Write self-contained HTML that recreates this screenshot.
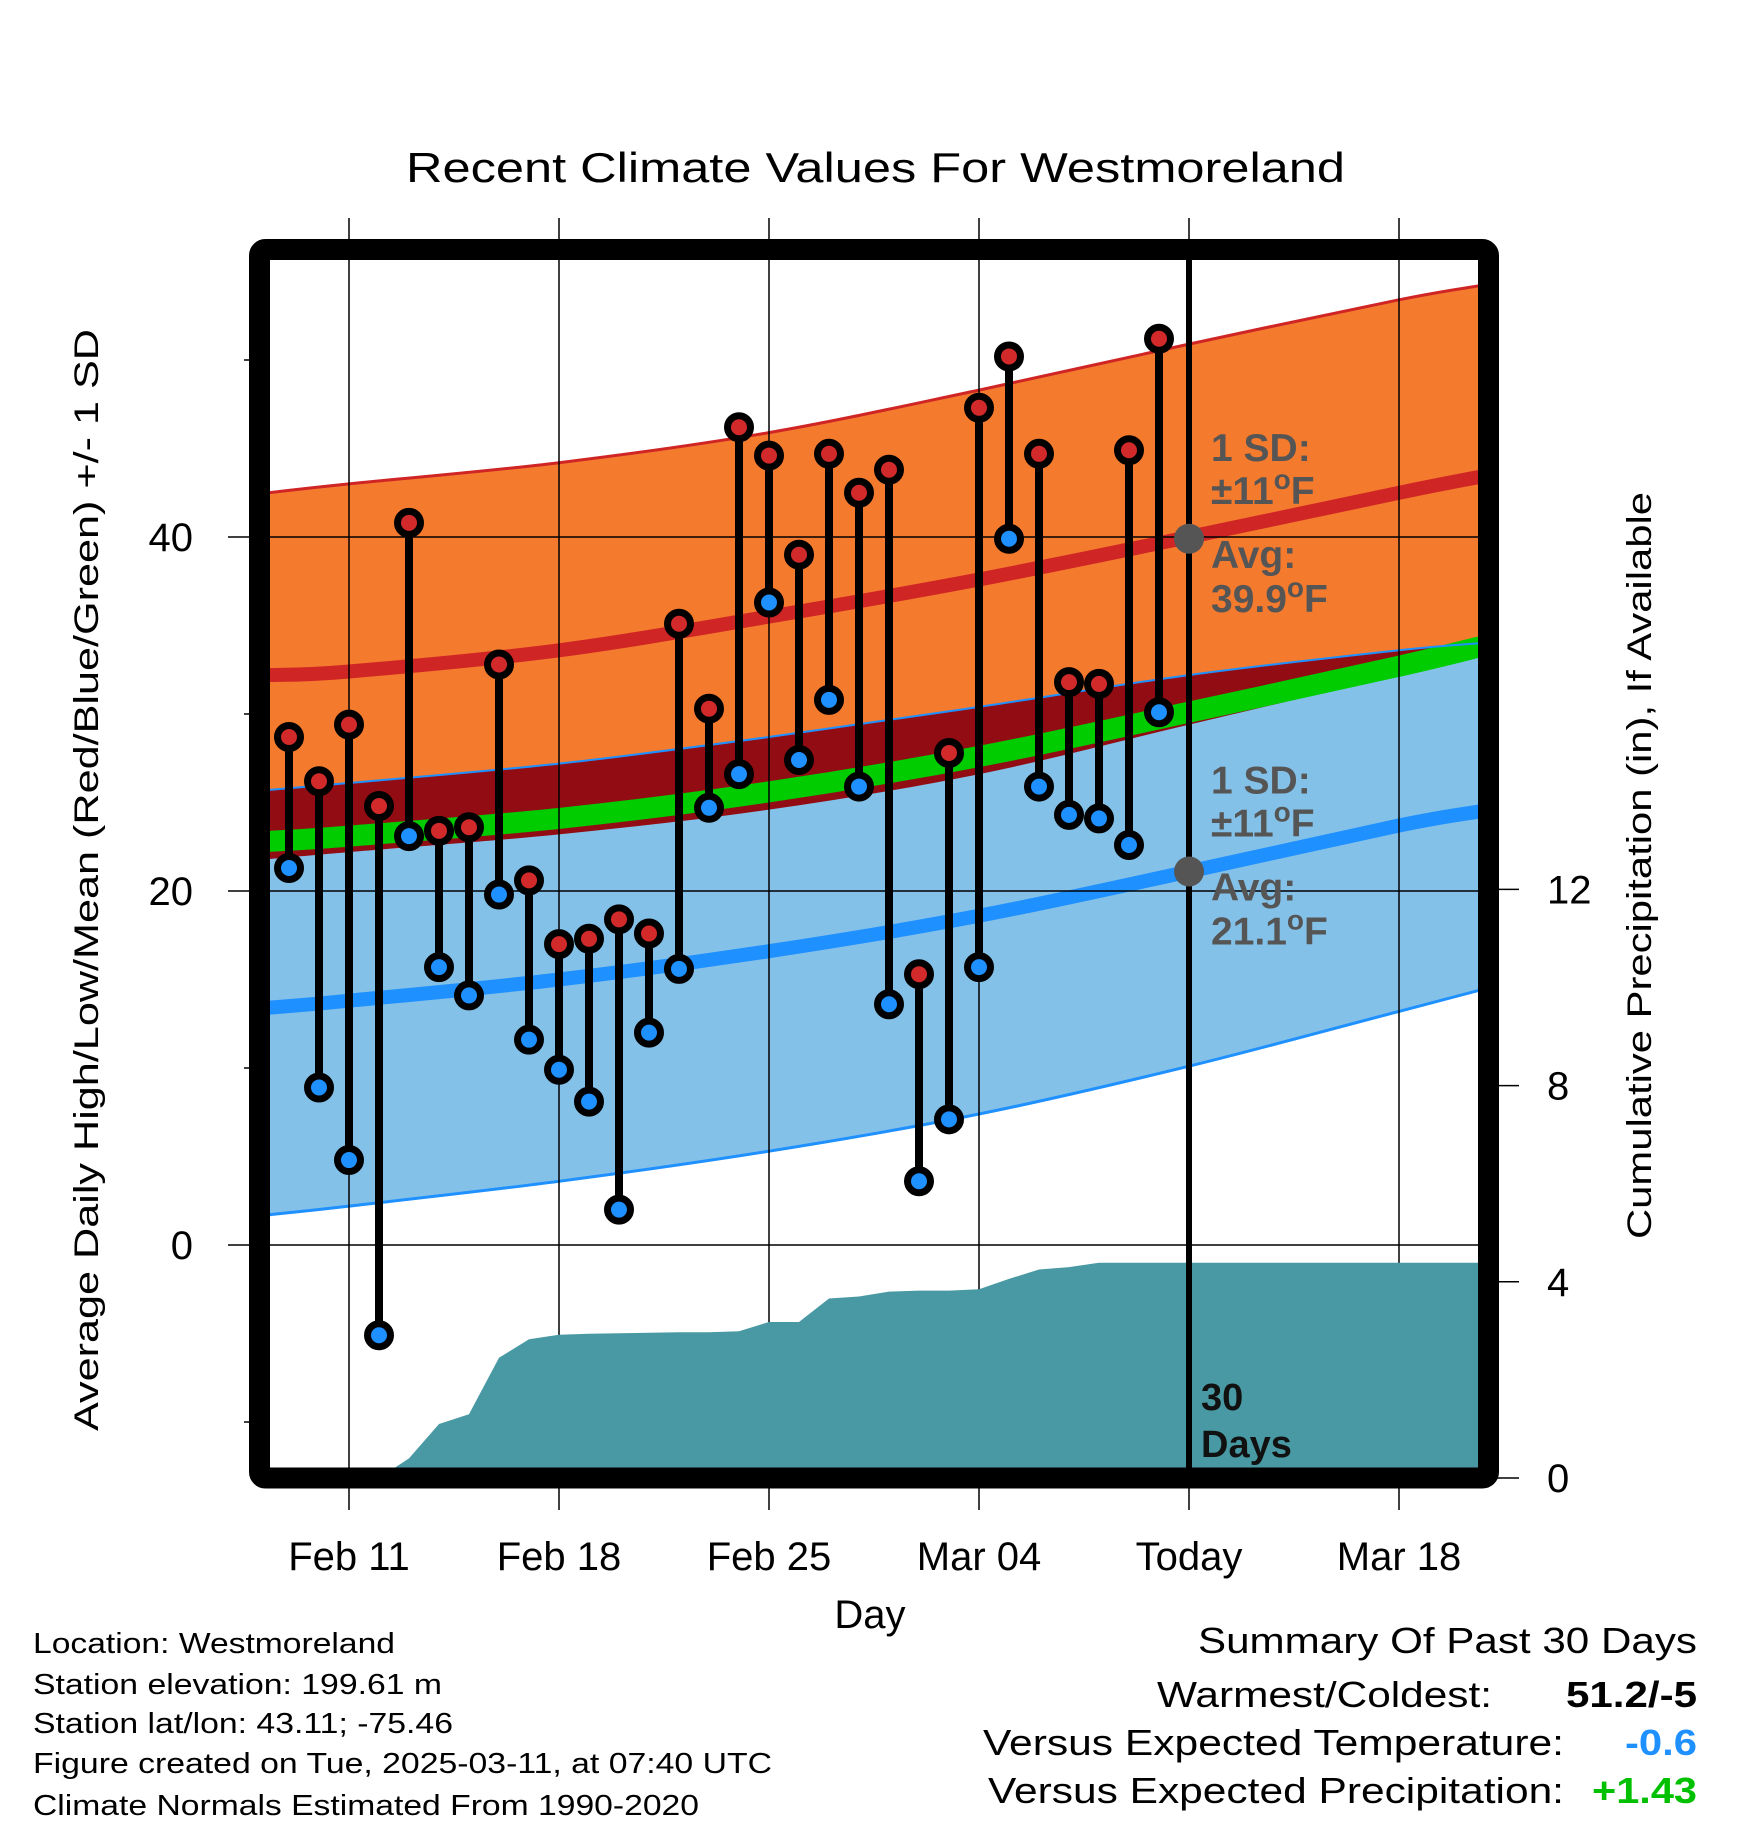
<!DOCTYPE html>
<html><head><meta charset="utf-8">
<style>
html,body{margin:0;padding:0;background:#fff;}
svg{display:block;}
text{font-family:"Liberation Sans",sans-serif;}
</style></head>
<body>
<svg id="chart" xmlns="http://www.w3.org/2000/svg" width="1748" height="1828" viewBox="0 0 1748 1828">
<defs><clipPath id="plotclip"><rect x="270" y="260" width="1208" height="1208"/></clipPath></defs>
<g id="layers" clip-path="url(#plotclip)"></g>
<g id="over"></g>
<text x="406" y="182" font-size="42" textLength="939" lengthAdjust="spacingAndGlyphs">Recent Climate Values For Westmoreland</text>
<text transform="translate(98,1431) rotate(-90)" font-size="34" textLength="1102" lengthAdjust="spacingAndGlyphs">Average Daily High/Low/Mean (Red/Blue/Green) +/- 1 SD</text>
<text transform="translate(1651,1239) rotate(-90)" font-size="34" textLength="747" lengthAdjust="spacingAndGlyphs">Cumulative Precipitation (in), If Available</text>
<text x="870" y="1628" font-size="40" text-anchor="middle">Day</text>
<g font-size="29">
<text x="33" y="1653" textLength="362" lengthAdjust="spacingAndGlyphs">Location: Westmoreland</text>
<text x="33" y="1694" textLength="409" lengthAdjust="spacingAndGlyphs">Station elevation: 199.61 m</text>
<text x="33" y="1733" textLength="420" lengthAdjust="spacingAndGlyphs">Station lat/lon: 43.11; -75.46</text>
<text x="33" y="1773" textLength="739" lengthAdjust="spacingAndGlyphs">Figure created on Tue, 2025-03-11, at 07:40 UTC</text>
<text x="33" y="1815" textLength="666" lengthAdjust="spacingAndGlyphs">Climate Normals Estimated From 1990-2020</text>
</g>
<g font-size="36">
<text x="1198" y="1653" textLength="499" lengthAdjust="spacingAndGlyphs">Summary Of Past 30 Days</text>
<text x="1157" y="1707" textLength="335" lengthAdjust="spacingAndGlyphs">Warmest/Coldest:</text>
<text x="1566" y="1707" font-weight="bold" textLength="131" lengthAdjust="spacingAndGlyphs">51.2/-5</text>
<text x="983" y="1755" textLength="581" lengthAdjust="spacingAndGlyphs">Versus Expected Temperature:</text>
<text x="1625" y="1755" font-weight="bold" fill="#1e90ff" textLength="72" lengthAdjust="spacingAndGlyphs">-0.6</text>
<text x="988" y="1803" textLength="576" lengthAdjust="spacingAndGlyphs">Versus Expected Precipitation:</text>
<text x="1592" y="1803" font-weight="bold" fill="#00c000" textLength="105" lengthAdjust="spacingAndGlyphs">+1.43</text>
</g>
</svg>
<script>
// day index: Feb 11 = 0
const obsDays = [-2,-1,0,1,2,3,4,5,6,7,8,9,10,11,12,13,14,15,16,17,18,19,20,21,22,23,24,25,26,27];
const highs = [28.7,26.2,29.4,24.8,40.8,23.4,23.6,32.8,20.6,17.0,17.3,18.4,17.6,35.1,30.3,46.2,44.6,39.0,44.7,42.5,43.8,15.3,27.8,47.3,50.2,44.7,31.8,31.7,44.9,51.2];
const lows = [21.3,8.9,4.8,-5.1,23.1,15.7,14.1,19.8,11.6,9.9,8.1,2.0,12.0,15.6,24.7,26.6,36.3,27.4,30.8,25.9,13.6,3.6,7.1,15.7,39.9,25.9,24.3,24.1,22.6,30.1];
const precip = [0,0,0,0,0.4,1.1,1.3,2.45,2.83,2.92,2.94,2.95,2.96,2.97,2.97,2.99,3.18,3.18,3.66,3.7,3.8,3.82,3.82,3.85,4.06,4.25,4.3,4.39,4.39,4.39];
const normDays = [-2.7,0,7,14,21,28,35,37.7];
const highUpper = [42.5,43.0,44.2,45.9,48.3,50.9,53.4,54.2];
const highMean = [32.2,32.4,33.6,35.5,37.6,40.0,42.5,43.4];
const blueUpper = [25.7,26.1,27.2,28.7,30.4,32.2,33.6,34.0];
const meanLine = [22.8,23.1,24.1,25.6,27.6,30.1,32.7,33.8];
const orangeLower = [21.8,22.2,23.2,24.6,26.6,29.4,32.2,33.2];
const lowMean = [13.4,13.8,15.0,16.6,18.6,21.1,23.7,24.5];
const lowLower = [1.7,2.2,3.6,5.3,7.4,10.1,13.2,14.4];
const xTickDays = [0,7,14,21,28,35];
const xTickLabels = ["Feb 11","Feb 18","Feb 25","Mar 04","Today","Mar 18"];
const yTicks = [0,20,40];
const yMinor = [-10,10,30,50];
const pTicks = [0,4,8,12];
const todayDay = 28;
const todayHighAvg = 39.9, todayLowAvg = 21.1;

const NS="http://www.w3.org/2000/svg";
const xS = d => 349 + 30*d;
const yT = t => 1245 - 17.7*t;
const yP = p => 1478 - 49.05*p;
const L = document.getElementById('layers');
const O = document.getElementById('over');
function mk(tag, attrs, parent){const e=document.createElementNS(NS,tag);for(const k in attrs)e.setAttribute(k,attrs[k]);parent.appendChild(e);return e;}
// smooth path through points (Catmull-Rom -> cubic bezier)
function smooth(pts, start){
  let d = (start?'M':'L')+pts[0][0].toFixed(1)+','+pts[0][1].toFixed(1);
  for(let i=0;i<pts.length-1;i++){
    const p0=pts[Math.max(i-1,0)], p1=pts[i], p2=pts[i+1], p3=pts[Math.min(i+2,pts.length-1)];
    const c1=[p1[0]+(p2[0]-p0[0])/6, p1[1]+(p2[1]-p0[1])/6];
    const c2=[p2[0]-(p3[0]-p1[0])/6, p2[1]-(p3[1]-p1[1])/6];
    d+='C'+c1[0].toFixed(1)+','+c1[1].toFixed(1)+' '+c2[0].toFixed(1)+','+c2[1].toFixed(1)+' '+p2[0].toFixed(1)+','+p2[1].toFixed(1);
  }
  return d;
}
function pts(xs, ys){return xs.map((x,i)=>[xS(x),yT(ys[i])]);}
function line(xs, ys){return smooth(pts(xs,ys),true);}
function band(xs, lo, hi){
  return smooth(pts(xs,hi),true)+smooth(pts(xs,lo).reverse(),false)+'Z';
}
let e;
e=mk('path',{d:band(normDays,orangeLower,highUpper),fill:'#f47a2e'},L);


e=mk('path',{d:band(normDays,lowLower,blueUpper),fill:'#84c1e8'},L);


e=mk('path',{d:band(normDays,orangeLower,blueUpper),fill:'#920c13'},L);


e=mk('path',{d:line(normDays,meanLine),fill:'none',stroke:'#00cc00','stroke-width':21},L);


e=mk('path',{d:line(normDays,highUpper),fill:'none',stroke:'#d02525','stroke-width':3},L);


e=mk('path',{d:line(normDays,blueUpper),fill:'none',stroke:'#1e90ff','stroke-width':2},L);


e=mk('path',{d:line(normDays,lowLower),fill:'none',stroke:'#1e90ff','stroke-width':3},L);


e=mk('path',{d:line(normDays,highMean),fill:'none',stroke:'#d02525','stroke-width':14},L);


e=mk('path',{d:line(normDays,lowMean),fill:'none',stroke:'#1e90ff','stroke-width':14},L);


// gridlines
xTickDays.forEach((d,i)=>{
  if(d===todayDay) return;
  const g=mk('line',{x1:xS(d),x2:xS(d),y1:218,y2:1510,stroke:'#000','stroke-width':1.5},O);
  
  
});
yTicks.forEach(t=>{
  const g=mk('line',{x1:228,x2:1478,y1:yT(t),y2:yT(t),stroke:'#000','stroke-width':1.5},O);
  
  
  const tx=mk('text',{x:193,y:yT(t)+14,'font-size':40,'text-anchor':'end'},O);
  tx.textContent=t;
  
  
});
yMinor.forEach(t=>{
  const g=mk('line',{x1:244,x2:250,y1:yT(t),y2:yT(t),stroke:'#000','stroke-width':1.5},O);
  
  
});
pTicks.forEach(p=>{
  const g=mk('line',{x1:1488,x2:1519,y1:yP(p),y2:yP(p),stroke:'#000','stroke-width':1.5},O);
  
  
  const tx=mk('text',{x:1547,y:yP(p)+14,'font-size':40},O);
  tx.textContent=p;
  
  
});
xTickDays.forEach((d,i)=>{
  const tx=mk('text',{x:xS(d),y:1570,'font-size':40,'text-anchor':'middle'},O);
  tx.textContent=xTickLabels[i];
  
  
  if(d===todayDay){
    const g=mk('line',{x1:xS(d),x2:xS(d),y1:218,y2:1510,stroke:'#000','stroke-width':1.5},O);
    
    
  }
});
// precip area
{
  let d='M270,'+yP(0);
  obsDays.forEach((dd,i)=>{d+='L'+xS(dd).toFixed(1)+','+yP(precip[i]).toFixed(1);});
  d+='L1478,'+yP(precip[precip.length-1]).toFixed(1)+'L1478,'+yP(0)+'Z';
  const a=mk('path',{d:d,fill:'#4899a3'},O);
  
  
}
// today line
e=mk('line',{x1:xS(todayDay),x2:xS(todayDay),y1:260,y2:1468,stroke:'#000','stroke-width':6},O);


// stems and dots
obsDays.forEach((d,i)=>{
  const s=mk('line',{x1:xS(d),x2:xS(d),y1:yT(highs[i]),y2:yT(lows[i]),stroke:'#000','stroke-width':8},O);
  
  
});
obsDays.forEach((d,i)=>{
  const h=mk('circle',{cx:xS(d),cy:yT(highs[i]),r:11.5,fill:'#d22a2a',stroke:'#000','stroke-width':7},O);
  
  
  const l=mk('circle',{cx:xS(d),cy:yT(lows[i]),r:11.5,fill:'#1e90ff',stroke:'#000','stroke-width':7},O);
  
  
});
// today avg dots
e=mk('circle',{cx:xS(todayDay),cy:yT(todayHighAvg),r:15,fill:'#555'},O);


e=mk('circle',{cx:xS(todayDay),cy:yT(todayLowAvg),r:15,fill:'#555'},O);


function ann(lines, x, ys, name){
  lines.forEach((t,i)=>{
    const tx=mk('text',{x:x,y:ys[i],'font-size':39,'font-weight':'bold',fill:'#555'},O);
    tx.innerHTML=t;
    
    
  });
}
const deg='<tspan dy="-15" font-size="28">o</tspan><tspan dy="15">F</tspan>';
const hy=yT(todayHighAvg), ly=yT(todayLowAvg);
ann(['1 SD:','±11'+deg,'Avg:','39.9'+deg],1211,[hy-78,hy-35,hy+29,hy+73],'high-annotation');
ann(['1 SD:','±11'+deg,'Avg:','21.1'+deg],1211,[ly-78,ly-35,ly+29,ly+73],'low-annotation');
e=mk('text',{x:1201,y:1410,'font-size':38,'font-weight':'bold',fill:'#111'},O);
e.textContent='30';


e=mk('text',{x:1201,y:1457,'font-size':38,'font-weight':'bold',fill:'#111'},O);
e.textContent='Days';


// frame
e=mk('rect',{x:259.5,y:249.5,width:1229,height:1228.5,rx:6,fill:'none',stroke:'#000','stroke-width':21},O);


</script>
</body></html>
